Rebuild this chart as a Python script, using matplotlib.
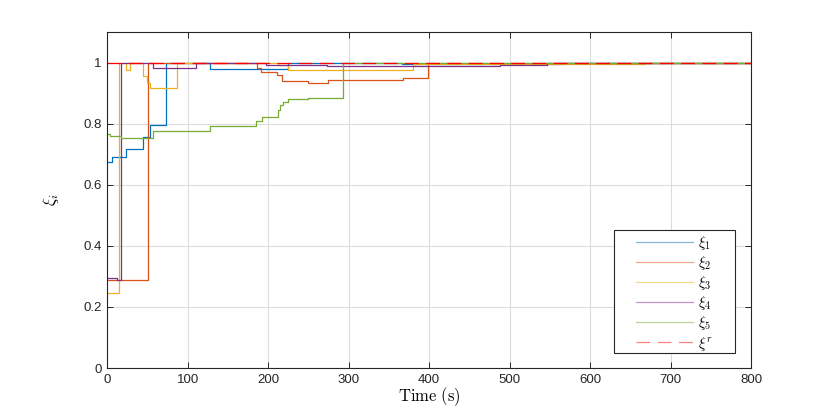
import matplotlib
matplotlib.use("Agg")
import matplotlib.pyplot as plt
from matplotlib.patches import Rectangle

plt.rcParams["mathtext.fontset"] = "cm"
plt.rcParams["font.family"] = ["Liberation Sans", "DejaVu Sans"]

# step breakpoints (time in s, value held until next time)
t1 = [0, 6, 24, 45, 53, 73, 128, 225, 366, 565, 800]
xi1 = [0.676, 0.690, 0.717, 0.755, 0.797, 1.0, 0.979, 1.0, 0.995, 1.0, 1.0]

t2 = [0, 51, 186, 191, 211, 217, 250, 275, 368, 399, 800]
xi2 = [0.288, 1.0, 0.983, 0.970, 0.960, 0.939, 0.934, 0.943, 0.948, 0.998, 0.998]

t3 = [0, 15, 24, 29, 45, 49, 53, 87, 212, 225, 380, 668, 800]
xi3 = [0.246, 1.0, 0.974, 1.0, 0.957, 0.932, 0.917, 1.0, 0.993, 0.974, 0.996, 1.0, 1.0]

t4 = [0, 12, 17, 57, 111, 197, 273, 426, 488, 546, 800]
xi4 = [0.294, 0.288, 1.0, 0.981, 1.0, 0.993, 0.987, 0.990, 0.993, 1.0, 1.0]

t5 = [0, 4, 17, 57, 128, 185, 192, 212, 215, 219, 225, 250, 293, 800]
xi5 = [0.766, 0.759, 0.754, 0.775, 0.791, 0.807, 0.821, 0.845, 0.860, 0.870, 0.879, 0.883, 1.0, 1.0]

tr = [0, 800]
xir = [1.0, 1.0]

series = [
    (t1, xi1, "#0072BD", r"$\xi_1$"),
    (t2, xi2, "#D95319", r"$\xi_2$"),
    (t3, xi3, "#EDB120", r"$\xi_3$"),
    (t4, xi4, "#7E2F8E", r"$\xi_4$"),
    (t5, xi5, "#77AC30", r"$\xi_5$"),
]

fig = plt.figure(figsize=(8.3, 4.15), dpi=100)
ax = fig.add_axes([0.129, 0.113, 0.776, 0.81])

for t, v, c, lab in series:
    ax.step(t, v, where="post", color=c, lw=0.9, label=lab)
ax.plot(tr, xir, color="#FF0000", lw=0.9, ls=(0, (11, 6)), label=r"$\xi^r$")

ax.set_xlim(0, 800)
ax.set_ylim(0, 1.1)
ax.set_xticks(range(0, 801, 100))
ax.set_yticks([0, 0.2, 0.4, 0.6, 0.8, 1.0])
ax.set_yticklabels(["0", "0.2", "0.4", "0.6", "0.8", "1"])
ax.grid(True, color="#dcdcdc", lw=0.8)
ax.set_axisbelow(True)
ax.tick_params(direction="in", length=4.5, width=0.7, colors="#262626",
               labelsize=9.5, top=True, right=True, pad=4)
for s in ax.spines.values():
    s.set_color("#262626")
    s.set_linewidth(0.8)

ax.set_xlabel(r"$\mathrm{Time\ (s)}$", fontsize=12, labelpad=0)
ax.set_ylabel(r"$\xi_i$", fontsize=12, labelpad=16)

# legend box drawn separately (MATLAB-like wide padding)
ax.add_patch(Rectangle((0.787, 0.045), 0.188, 0.366, transform=ax.transAxes,
                       facecolor="white", edgecolor="#262626", lw=0.8, zorder=5))
leg = ax.legend(loc="upper left", bbox_to_anchor=(0.821, 0.40), fontsize=10.5,
                handlelength=3.9, handletextpad=0.35, labelspacing=0.15,
                frameon=False, borderpad=0, borderaxespad=0)
leg.set_zorder(6)
for h in leg.get_lines():
    h.set_alpha(0.5)

fig.savefig("out.png", dpi=100)
